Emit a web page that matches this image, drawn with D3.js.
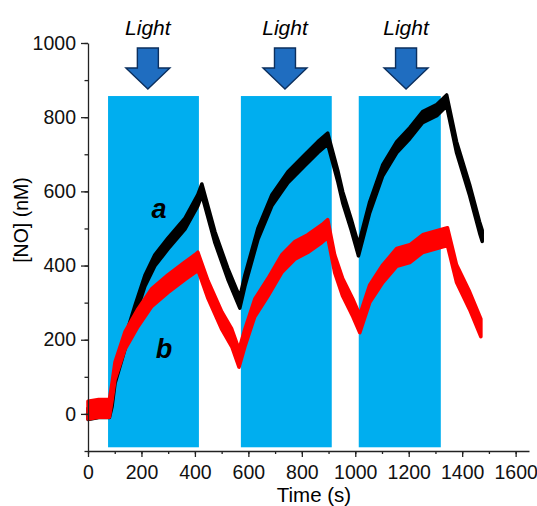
<!DOCTYPE html>
<meta charset="utf-8">

<style>
  body { margin: 0; background: white; }
  text { font-family: "Liberation Sans", Arial, sans-serif; }
  .axis path, .axis line { stroke: #222; stroke-width: 1.3; }
  .axis text { font-size: 19.5px; fill: #111; }
  .light { fill: #00aeef; }
  .arrow { fill: #1f6dc0; stroke: #0b2f5e; stroke-width: 1.4; stroke-linejoin: miter; }
</style>

<body>
  <script src="https://d3js.org/d3.v7.min.js"></script>

  <script>
    var width = 537,
        height = 506;

    // light-on periods (s) and the extent of the shaded band (nM)
    var lightStart = [75, 572, 1013];
    var lightEnd = [415, 912, 1320];
    var lightTop = 857, lightBottom = -90;
    var arrowTimes = [224, 737, 1190];

    // trace a (black)
    var timeA = [0, 40, 80, 90, 101, 138, 176, 213, 250, 299, 363, 411, 426, 475, 523, 568, 587, 636, 688, 748, 811, 860, 897, 935, 953, 985, 1012, 1054, 1103, 1155, 1204, 1252, 1305, 1342, 1379, 1428, 1465, 1475];
    var noA = [0, 5, 5, 35, 97, 189, 278, 359, 414, 459, 513, 576, 605, 476, 378, 300, 359, 486, 576, 638, 684, 719, 742, 640, 584, 510, 441, 557, 657, 719, 757, 800, 819, 845, 719, 603, 503, 480];
    var noiseA = 15;

    // trace b (red)
    var timeB = [0, 40, 80, 90, 101, 138, 187, 239, 299, 363, 400, 411, 449, 501, 538, 565, 587, 624, 673, 725, 774, 822, 875, 897, 923, 953, 991, 1017, 1054, 1103, 1155, 1204, 1252, 1305, 1345, 1379, 1428, 1470];
    var noB = [10, 15, 15, 60, 116, 197, 259, 314, 351, 386, 405, 412, 335, 251, 205, 150, 205, 286, 341, 405, 441, 459, 486, 500, 405, 341, 286, 243, 324, 378, 422, 432, 459, 470, 478, 378, 305, 232];
    var noiseB = 24;

    var xTicks = [0, 200, 400, 600, 800, 1000, 1200, 1400, 1600];
    var yTicks = [0, 200, 400, 600, 800, 1000];

    var svg = d3.select("body").append("svg")
                .attr("width", width)
                .attr("height", height);

    var x = d3.scaleLinear().domain([0, 1650]).range([88, 529]);
    var y = d3.scaleLinear().domain([-100, 1000]).range([451, 43]);

    // shaded light periods
    svg.selectAll("rect.light")
       .data(lightStart)
       .enter().append("rect")
       .attr("class", "light")
       .attr("x", function(d) { return x(d); })
       .attr("width", function(d, i) { return x(lightEnd[i]) - x(d); })
       .attr("y", y(lightTop))
       .attr("height", y(lightBottom) - y(lightTop));

    function drawTrace(times, values, noise, color) {
      var pts = times.map(function(t, i) { return [t, values[i]]; });
      var band = d3.area()
                   .x(function(d) { return x(d[0]); })
                   .y0(function(d) { return y(d[1] - noise); })
                   .y1(function(d) { return y(d[1] + noise); });
      svg.append("path")
         .datum(pts)
         .attr("d", band)
         .attr("fill", color)
         .attr("stroke", color)
         .attr("stroke-width", 3.5)
         .attr("stroke-linejoin", "round");
    }

    drawTrace(timeA, noA, noiseA, "#000");
    drawTrace(timeB, noB, noiseB, "#ff0000");

    // axes
    svg.append("g")
       .attr("class", "axis")
       .attr("transform", "translate(0," + y(-100) + ")")
       .call(d3.axisBottom(x).tickValues(d3.range(0, 1700, 100)).tickSize(3).tickFormat(""))
       .call(function(g) { g.select(".domain").remove(); });
    svg.append("g")
       .attr("class", "axis")
       .attr("transform", "translate(0," + y(-100) + ")")
       .call(d3.axisBottom(x).tickValues(xTicks).tickFormat(d3.format("d"))
               .tickSizeInner(6).tickSizeOuter(0).tickPadding(8));

    svg.append("g")
       .attr("class", "axis")
       .attr("transform", "translate(" + x(0) + ",0)")
       .call(d3.axisLeft(y).tickValues(d3.range(-100, 1100, 100)).tickSize(3.5).tickFormat(""))
       .call(function(g) { g.select(".domain").remove(); });
    svg.append("g")
       .attr("class", "axis")
       .attr("transform", "translate(" + x(0) + ",0)")
       .call(d3.axisLeft(y).tickValues(yTicks).tickFormat(d3.format("d"))
               .tickSizeInner(7).tickSizeOuter(0).tickPadding(5));

    // axis titles
    svg.append("text")
       .attr("x", 314)
       .attr("y", 502)
       .attr("text-anchor", "middle")
       .style("font-size", "20.5px")
       .text("Time (s)");

    svg.append("text")
       .attr("transform", "translate(28,220) rotate(-90)")
       .attr("text-anchor", "middle")
       .style("font-size", "19.5px")
       .text("[NO] (nM)");

    // trace labels
    svg.append("text")
       .attr("x", x(266)).attr("y", y(528))
       .attr("text-anchor", "middle")
       .style("font-size", "27px").style("font-weight", "bold").style("font-style", "italic")
       .text("a");
    svg.append("text")
       .attr("x", x(284)).attr("y", y(151))
       .attr("text-anchor", "middle")
       .style("font-size", "27px").style("font-weight", "bold").style("font-style", "italic")
       .text("b");

    // light arrows
    function arrowPath(cx) {
      var sw = 10.5, hw = 22, top = 48, neck = 68, tip = 89;
      return "M" + (cx - sw) + "," + top +
             "L" + (cx + sw) + "," + top +
             "L" + (cx + sw) + "," + neck +
             "L" + (cx + hw) + "," + neck +
             "L" + cx + "," + tip +
             "L" + (cx - hw) + "," + neck +
             "L" + (cx - sw) + "," + neck + "Z";
    }

    svg.selectAll("path.arrow")
       .data(arrowTimes)
       .enter().append("path")
       .attr("class", "arrow")
       .attr("d", function(d) { return arrowPath(x(d)); });

    svg.selectAll("text.lightlabel")
       .data(arrowTimes)
       .enter().append("text")
       .attr("class", "lightlabel")
       .attr("x", function(d) { return x(d); })
       .attr("y", 35)
       .attr("text-anchor", "middle")
       .style("font-size", "21px")
       .style("font-style", "italic")
       .text("Light");
  </script>
</body>
